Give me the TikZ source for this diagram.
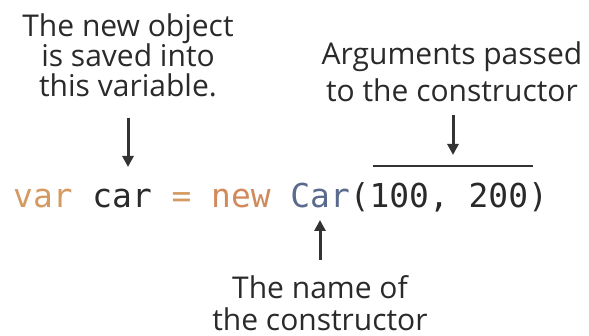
\documentclass[tikz,border=0pt]{standalone}
\usepackage{fontspec}
\usepackage{xcolor}
\usepackage{tikz}
\usetikzlibrary{arrows.meta}
\setmainfont{Open Sans}
\newfontfamily\codefont{DejaVu Sans Mono}
\definecolor{CDText}{HTML}{2A2A2A}
\definecolor{CDKey}{HTML}{D49A62}
\definecolor{CDNew}{HTML}{D08A5C}
\definecolor{CDType}{HTML}{5A6A8C}
\definecolor{CDLine}{HTML}{333333}
\tikzset{
  note/.style={align=center,inner sep=0pt,text=CDText,font=\fontsize{30}{#1}\selectfont},
  tok/.style={anchor=base west,inner sep=0pt,font=\codefont\fontsize{32.9}{36}\selectfont,text=#1},
  pointer/.style={CDLine,line width=3pt,-{Triangle[width=11pt,length=11pt]}}
}
\begin{document}
\begin{tikzpicture}[x=1pt,y=1pt]
\path[use as bounding box] (0,0) rectangle (589,336);
\node[note=30,anchor=north] (saved) at (128,322) {The new object\\is saved into\\this variable.};
\node[note=37,anchor=north] (args) at (452,294) {Arguments passed\\to the constructor};
\node[note=32,anchor=north] (cname) at (320,61) {The name of\\the constructor};
\node[tok=CDKey] (kvar) at (13,128) {var};
\node[tok=CDText] (vcar) at (92.2,128) {car};
\node[tok=CDKey] (assign) at (171.4,128) {=};
\node[tok=CDNew] (knew) at (211,128) {new};
\node[tok=CDType] (ctor) at (290.2,128) {Car};
\node[tok=CDText] (callargs) at (349.6,128) {(100, 200)};
\coordinate (savedTip) at (128,169);
\coordinate (argsTip) at (453,181);
\coordinate (ctorTip) at (320,116);
\coordinate (spanL) at (373,170);
\coordinate (spanR) at (533,170);
\draw[CDLine,line width=1.1pt] (spanL) -- (spanR);
\draw[pointer,shorten <=20pt] (saved.south) -- (savedTip);
\draw[pointer,shorten <=13pt] (args.south -| argsTip) -- (argsTip);
\draw[pointer,shorten <=15pt] (cname.north) -- (ctorTip);
\end{tikzpicture}
\end{document}
